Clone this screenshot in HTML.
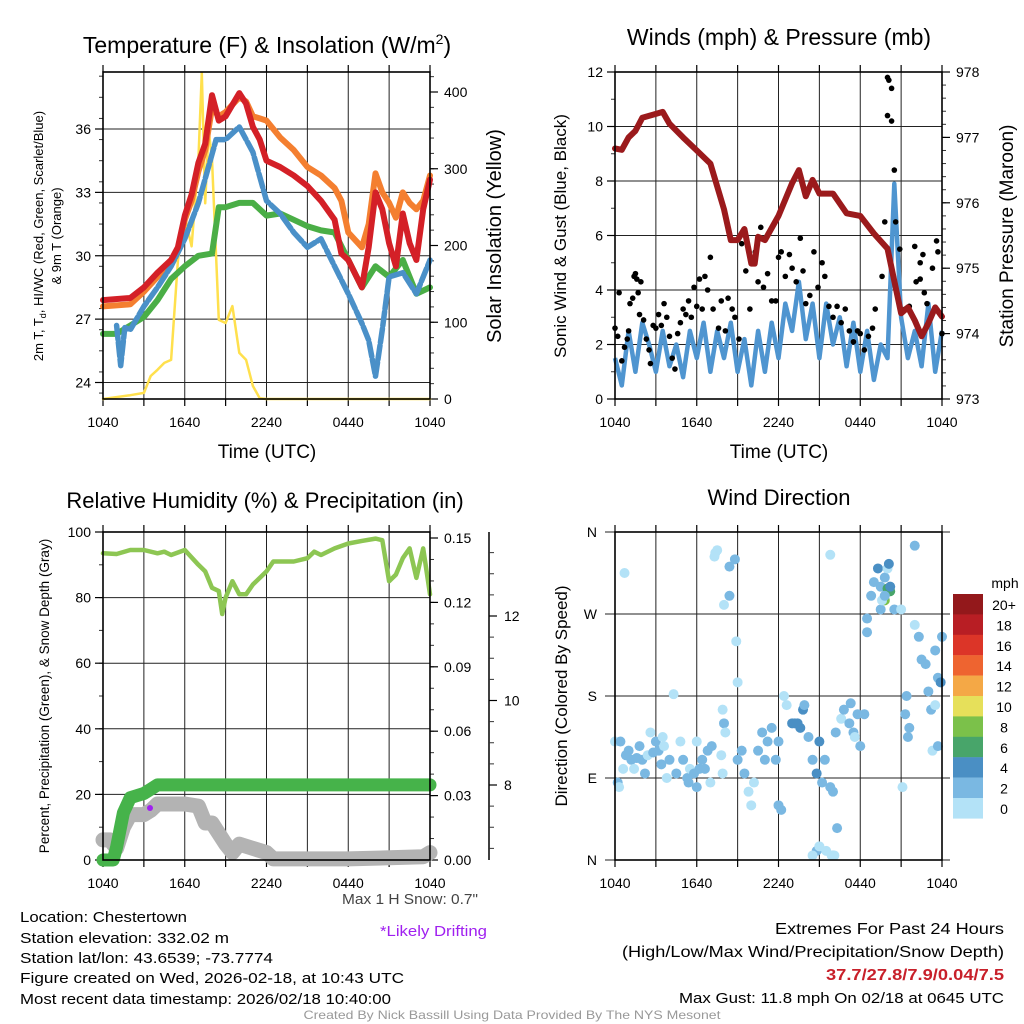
<!DOCTYPE html>
<html><head><meta charset="utf-8"><style>
html,body{margin:0;padding:0;background:#fff;}
svg{display:block;font-family:"Liberation Sans",sans-serif;}
</style></head><body>
<svg id="svg" width="1024" height="1024" viewBox="0 0 1024 1024" xmlns="http://www.w3.org/2000/svg"></svg>
<script>
// ---------- DATA ----------
const timeTicks = ["1040","1640","2240","0440","1040"];
const tempHours = [0,2,3,4,5,5.5,6,6.5,7,7.5,8,8.5,9,10,10.5,11,11.5,12,13,14,15,16,17,17.5,18,19,19.5,20,20.5,21,21.5,22,22.5,23,23.5,24];
const temp2m = [27.9,28.0,28.5,29.2,29.8,30.4,31.9,32.9,34.4,35.3,37.6,36.4,36.6,37.7,37.2,36.1,35.5,34.5,34.2,33.8,33.3,32.6,31.7,30.1,29.8,28.5,30.4,33.0,32.2,30.6,29.5,32.0,30.6,29.8,32.2,33.6];
const temp9m = [27.6,27.7,28.3,29.0,29.8,30.3,31.7,32.6,34.0,35.0,37.0,36.6,36.8,37.5,37.3,36.6,36.5,36.4,35.6,35.0,34.2,33.8,33.2,32.6,31.1,30.4,31.5,33.9,33.0,32.5,31.8,33.0,32.5,32.2,32.6,33.8];
const dewHours = [0,1,2,3,4,5,6,7,8,8.5,9,10,11,12,13,14,15,16,17,18,19,20,21,22,23,24];
const dewpt = [26.3,26.3,26.7,27.1,27.9,28.9,29.5,30.0,30.1,32.3,32.3,32.5,32.5,31.9,32.0,31.7,31.4,31.2,31.1,29.8,28.5,29.5,29.0,29.8,28.2,28.5];
const chillHours = [1,1.3,1.6,2,3,4,5,6,7,8.3,9,10,11,12,13,14,15,16,17,18,19,19.5,20,20.5,21,22,23,24];
const chill = [26.7,24.8,26.6,26.5,27.6,28.5,29.5,30.8,32.5,35.5,35.5,36.1,34.9,32.6,32.0,31.1,30.4,30.8,29.5,28.2,26.8,26.0,24.3,26.5,29.0,29.2,28.2,29.8];
const solarHours = [0,2,3,3.5,4,4.5,5,5.5,6,6.5,7,7.25,7.5,7.75,8,8.5,9,9.5,10,10.5,11,11.5,12,24];
const solar = [0,5,8,30,38,47,51,180,238,199,312,425,255,351,312,103,99,121,60,51,17,1,0,0];
const presHours = [0,0.5,1,1.5,2,3,3.5,4,5,6,7,8,8.5,9,9.5,10,10.25,10.5,11,12,13,13.5,14,14.5,15,16,17,18,19,20,21,21.5,22,22.5,23,23.5,24];
const pressure = [976.83,976.81,977.0,977.1,977.3,977.36,977.39,977.21,977.0,976.8,976.6,975.9,975.43,975.43,975.6,975.07,975.07,975.48,975.43,975.8,976.3,976.5,976.1,976.35,976.14,976.14,975.84,975.8,975.53,975.3,974.31,974.4,974.2,973.96,974.16,974.4,974.26];
const windSpeed = [1.5,0.5,2.5,1.0,2.8,2.0,1.0,2.5,1.2,2.0,0.8,2.5,1.5,2.8,1.0,2.5,1.5,2.8,1.0,2.2,0.5,2.5,1.0,2.8,1.5,3.5,2.5,4.3,2.2,3.5,1.5,3.5,2.0,3.0,1.2,2.8,1.0,2.5,0.7,2.0,1.5,7.9,3.0,1.5,2.5,1.2,3.5,1.0,2.5];
const gustHours = [0,0.2,0.3,0.5,0.7,0.9,1,1.1,1.3,1.4,1.5,1.6,1.7,1.8,1.9,2.1,2.3,2.5,2.6,2.8,3,3.2,3.4,3.6,3.8,4,4.2,4.4,4.6,4.8,5,5.2,5.4,5.6,5.8,6,6.2,6.4,6.6,6.8,7,7.2,7.6,7.8,8.1,8.3,8.6,8.8,9.1,9.3,9.6,9.9,10.2,10.3,10.5,10.7,10.9,11.2,11.5,11.8,12,12.2,12.5,12.8,13,13.3,13.6,13.8,14,14.3,14.6,14.9,15.2,15.4,15.7,16,16.3,16.6,16.9,17.2,17.5,17.8,18,18.3,18.6,18.9,19.1,19.6,19.8,20,20.1,20.3,20.0,20.3,20.5,20.6,20.9,21.3,21.6,22,22.1,22.4,22.6,22.7,22.9,23.3,23.6,23.7,24,23.5,22.4];
const gusts = [2.6,2.3,3.9,1.4,1.9,2.2,2.5,3.5,3.7,4.5,4.6,4.4,3.9,3.1,4.3,2.9,2.2,1.8,1.3,2.7,2.6,3.1,2.7,3.5,3.0,2.3,1.5,1.1,2.4,2.8,3.3,3.1,3.6,3.0,4.1,3.4,4.4,3.3,4.5,4.0,5.2,3.3,2.6,3.6,2.5,3.7,3.3,3.0,2.2,5.7,4.7,3.3,5.0,5.4,4.3,6.3,4.1,4.6,3.6,3.6,5.2,5.4,4.5,5.3,4.8,4.3,5.9,4.7,3.5,3.8,5.4,4.1,5.0,4.5,3.4,3.0,3.4,2.8,3.3,2.5,2.1,2.5,2.4,1.8,2.3,2.6,3.3,4.5,6.5,11.8,11.7,11.4,10.4,10.2,8.4,6.5,5.5,3.3,3.4,5.6,4.3,5.0,5.3,3.9,3.5,4.8,5.8,5.4,2.4,3.3,4.4];
const rhHours = [0,1,2,3,4,4.5,5,6,7,7.5,8,8.5,8.75,9,9.5,10,10.5,11,12,12.5,13,14,15,15.5,16,17,18,19,20,20.5,21,21.5,22,22.5,23,23.5,24];
const rh = [93.5,93.3,94.5,94.5,93.5,94,93,94.5,90,88,83,82,75,80,85,81,81,84,88,91,91,91,92,94,93,95,96.5,97.3,98,97.5,85,87,92,95,86,95,81];
const precipHours = [0,0.5,0.75,1,1.25,1.5,2,2.5,3,3.5,4,24];
const precip = [0,0,0,0.006,0.014,0.022,0.029,0.030,0.031,0.033,0.035,0.035];
const snowHours = [0,0.5,1,1.5,2,3,3.5,4,6,7,7.5,8,9,9.5,10,11,12,12.5,18,23.5,24];
const snowDepth = [6.7,6.7,6.5,7.0,7.3,7.3,7.4,7.55,7.55,7.5,7.1,7.1,6.6,6.4,6.6,6.5,6.4,6.25,6.25,6.3,6.4];
const wdHours = [0,0.2,0.3,0.4,0.6,0.8,1,1.2,1.4,1.6,1.8,2,0.7,2.2,2.4,2.6,2.8,3,3.2,3.4,3.6,3.8,4,3.5,4.3,4.5,4.8,5,5.3,5.5,5.8,6,6,6.2,6.4,6.6,6.8,7,7.1,5.4,7.36,7.5,7.3,7.9,8,8.1,7.9,7.8,8.8,8.4,8.4,8,8.9,9,9.3,9.5,9.8,10,10.2,10.5,10.8,11,11.2,11.5,11.8,12,12.2,12.4,12.6,12,9,13,13.2,13.4,13.6,13.8,13.9,14.2,14.5,14.8,15,15.2,15.4,14.8,15,14.5,15.5,15.8,16,16.3,16.2,16.6,16.8,17.2,17.8,17.5,18,17.3,17.6,16,16.1,15.9,15.8,18.3,18.5,18.5,18.8,19,19.3,19.5,19.8,20,20.2,19.8,20.5,21,19.5,19.6,19.8,21.1,21.3,21.5,21.6,21.4,20,20.1,20.2,22,22,22.3,22.5,22.8,23.5,23.7,23.9,24,23.2,23.3,23.5,23.7,23];
const wdDirs = [130,85,80,130,100,115,120,110,100,112,125,110,315,95,115,140,118,130,120,105,125,90,110,135,182,95,130,110,90,100,95,80,130,100,110,100,120,85,125,85,337,340,333,165,150,140,95,115,330,322,290,280,240,195,120,95,75,60,85,120,140,110,130,145,110,60,55,180,170,130,110,150,150,150,145,165,170,135,110,95,130,85,110,10,15,5,10,80,75,35,140,155,165,150,160,140,125,172,135,5,5,5,335,160,250,265,290,305,320,300,310,298,295,285,275,275,275,285,290,80,160,135,145,180,320,325,300,345,258,245,220,215,230,200,195,245,165,120,170,125,185];
const wdSpeeds = [1,3,1,3,1,3,3,3,1,3,3,3,1,3,1,1,3,3,3,3,1,1,3,1,1,3,1,3,3,1,3,3,1,3,3,3,3,1,3,3,1,1,1,1,3,1,1,1,3,3,3,1,1,1,3,3,1,1,1,3,3,3,3,3,3,3,3,1,1,3,3,5,5,5,5,5,3,3,3,5,5,3,3,3,1,1,1,3,3,3,3,1,3,3,3,3,3,3,1,3,1,1,1,3,3,3,3,3,5,3,3,7,7,9,3,1,3,1,3,1,3,3,3,3,1,5,5,3,1,3,3,3,3,3,5,3,3,1,1,3,3];
const cbLabels = ["20+","18","16","14","12","10","8","6","4","2","0"];
const cbColors = ["#93181b","#b81e24","#dc3528","#ee6430","#f4a846","#e6e05a","#7bc14a","#48a56a","#4a8fc4","#7ab8e2","#b3e2f7"];

// ---------- HELPERS ----------
const NS="http://www.w3.org/2000/svg";
const svg=document.getElementById('svg');
function el(tag,attrs,parent,text){const e=document.createElementNS(NS,tag);for(const k in attrs)e.setAttribute(k,attrs[k]);if(text!==undefined)e.textContent=text;(parent||svg).appendChild(e);return e;}
function lin(d0,d1,r0,r1){return v=>r0+(v-d0)*(r1-r0)/(d1-d0);}
function pathFrom(xs,ys,fx,fy){return xs.map((x,i)=>(i?'L':'M')+fx(x).toFixed(1)+' '+fy(ys[i]).toFixed(1)).join(' ');}

function framePanel(g,x0,x1,y0,y1){
  const fx=lin(0,24,x0,x1);
  for(let h=0;h<=24;h+=3){
    const gl=el('line',{x1:fx(h),x2:fx(h),y1:y0,y2:y1,stroke:'#222','stroke-width':1},g);
    
    
    el('line',{x1:fx(h),x2:fx(h),y1:y1,y2:y1+7,stroke:'#000','stroke-width':1.2},g);
    el('line',{x1:fx(h),x2:fx(h),y1:y0,y2:y0-7,stroke:'#000','stroke-width':1.2},g);
  }
  timeTicks.forEach((t,i)=>{const tx=el('text',{x:fx(i*6),y:y1+28,'font-size':14,'text-anchor':'middle'},g,t);
    
    });
  return fx;
}
function hGrid(g,x0,x1,y){el('line',{x1:x0,x2:x1,y1:y,y2:y,stroke:'#222','stroke-width':1},g);}
function border(g,x0,x1,y0,y1){const b=el('rect',{x:x0,y:y0,width:x1-x0,height:y1-y0,fill:'none',stroke:'#000','stroke-width':1.6},g);}
function leftTicks(g,x0,vals,fy,labels,minors){
  (minors||[]).forEach(v=>el('line',{x1:x0,x2:x0-4,y1:fy(v),y2:fy(v),stroke:'#333','stroke-width':1},g));
  vals.forEach((v,i)=>{el('line',{x1:x0,x2:x0-8,y1:fy(v),y2:fy(v),stroke:'#000','stroke-width':1.2},g);
    const t=el('text',{x:x0-12,y:fy(v)+5,'font-size':14,'text-anchor':'end'},g,labels[i]);
    });
}
function rightTicks(g,x1,vals,fy,labels,minors){
  (minors||[]).forEach(v=>el('line',{x1:x1,x2:x1+4,y1:fy(v),y2:fy(v),stroke:'#333','stroke-width':1},g));
  vals.forEach((v,i)=>{el('line',{x1:x1,x2:x1+8,y1:fy(v),y2:fy(v),stroke:'#000','stroke-width':1.2},g);
    const t=el('text',{x:x1+14,y:fy(v)+5,'font-size':14,'text-anchor':'start'},g,labels[i]);
    });
}
function range(a,b,s){const r=[];for(let v=a;v<=b+1e-9;v+=s)r.push(+v.toFixed(4));return r;}

// ---------- PANEL 1: Temperature ----------
{
const g=el('g',{});
const X0=103,X1=430,Y0=72,Y1=399;
const fx=framePanel(g,X0,X1,Y0,Y1);
const fy=lin(24,36,382.5,129);
const fs=lin(0,400,399,92);
[24,27,30,33,36].forEach(v=>hGrid(g,X0,X1,fy(v)));
leftTicks(g,X0,[24,27,30,33,36],fy,["24","27","30","33","36"],range(23.5,38.5,1));
rightTicks(g,X1,[0,100,200,300,400],fs,["0","100","200","300","400"],range(20,420,20));
const cs={fill:'none','stroke-linejoin':'round','stroke-linecap':'round'};
let p;
p=el('path',Object.assign({d:pathFrom(solarHours,solar,fx,fs),stroke:'#ffe04d','stroke-width':2.5},cs),g);
p=el('path',Object.assign({d:pathFrom(tempHours,temp9m,fx,fy),stroke:'#f47f30','stroke-width':6},cs),g);
p=el('path',Object.assign({d:pathFrom(dewHours,dewpt,fx,fy),stroke:'#4aae46','stroke-width':6},cs),g);
p=el('path',Object.assign({d:pathFrom(chillHours,chill,fx,fy),stroke:'#4a90c8','stroke-width':5.5,'stroke-dasharray':'14 3'},cs),g);
p=el('path',Object.assign({d:pathFrom(tempHours,temp2m,fx,fy),stroke:'#d42027','stroke-width':6},cs),g);
border(g,X0,X1,Y0,Y1);
let t=el('text',{x:267,y:53,'font-size':23,'text-anchor':'middle'},g);
t.innerHTML='Temperature (F) &amp; Insolation (W/m<tspan dy="-9" font-size="14">2</tspan><tspan dy="9">)</tspan>';
t=el('text',{x:267,y:458,'font-size':19,'text-anchor':'middle'},g,'Time (UTC)');
t=el('text',{transform:'translate(43,236) rotate(-90)','font-size':13,'text-anchor':'middle'},g);
t.innerHTML='2m T, T<tspan dy="3" font-size="9">d</tspan><tspan dy="-3">, HI/WC (Red, Green, Scarlet/Blue)</tspan>';
t=el('text',{transform:'translate(61,236) rotate(-90)','font-size':13,'text-anchor':'middle'},g,'& 9m T (Orange)');
t=el('text',{transform:'translate(501,236) rotate(-90)','font-size':20,'text-anchor':'middle'},g,'Solar Insolation (Yellow)');
}

// ---------- PANEL 2: Winds ----------
{
const g=el('g',{});
const X0=615,X1=942,Y0=72,Y1=399;
const fx=framePanel(g,X0,X1,Y0,Y1);
const fy=lin(0,12,399,72);
const fp=lin(973,978,399,72);
[0,2,4,6,8,10,12].forEach(v=>hGrid(g,X0,X1,fy(v)));
leftTicks(g,X0,[0,2,4,6,8,10,12],fy,["0","2","4","6","8","10","12"],range(0,12,1));
rightTicks(g,X1,[973,974,975,976,977,978],fp,["973","974","975","976","977","978"],range(973,978,0.2));
const wh=windSpeed.map((v,i)=>i*24/(windSpeed.length-1));
let p=el('path',{d:pathFrom(wh,windSpeed,fx,fy),fill:'none',stroke:'#4f95d0','stroke-width':4.5,'stroke-linejoin':'round'},g);
gusts.forEach((v,i)=>{const c=el('circle',{cx:fx(gustHours[i]),cy:fy(v),r:2.8,fill:'#000'},g);
  
  });
p=el('path',{d:pathFrom(presHours,pressure,fx,fp),fill:'none',stroke:'#9b1a1c','stroke-width':6,'stroke-linejoin':'round','stroke-linecap':'round'},g);
border(g,X0,X1,Y0,Y1);
let t=el('text',{x:779,y:45,'font-size':23,'text-anchor':'middle'},g,'Winds (mph) & Pressure (mb)');
t=el('text',{x:779,y:458,'font-size':19,'text-anchor':'middle'},g,'Time (UTC)');
t=el('text',{transform:'translate(566,236) rotate(-90)','font-size':17,'text-anchor':'middle'},g,'Sonic Wind & Gust (Blue, Black)');
t=el('text',{transform:'translate(1013,236) rotate(-90)','font-size':19,'text-anchor':'middle'},g,'Station Pressure (Maroon)');
}

// ---------- PANEL 3: RH ----------
{
const g=el('g',{});
const X0=103,X1=430,Y0=532,Y1=860;
const fx=framePanel(g,X0,X1,Y0,Y1);
const fy=lin(0,100,860,532);
const fr=lin(0,0.15,860,538);
const fsn=lin(8,12,785,616);
[0,20,40,60,80,100].forEach(v=>hGrid(g,X0,X1,fy(v)));
leftTicks(g,X0,[0,20,40,60,80,100],fy,["0","20","40","60","80","100"],range(0,100,10));
rightTicks(g,X1,[0,0.03,0.06,0.09,0.12,0.15],fr,["0.00","0.03","0.06","0.09","0.12","0.15"],range(0,0.15,0.01));
const ax=el('line',{x1:489,x2:489,y1:532,y2:860,stroke:'#000','stroke-width':1.5},g);
range(6.5,13.5,0.5).forEach(v=>el('line',{x1:489,x2:494,y1:fsn(v),y2:fsn(v),stroke:'#333','stroke-width':1},g));
[8,10,12].forEach(v=>{el('line',{x1:489,x2:497,y1:fsn(v),y2:fsn(v),stroke:'#000','stroke-width':1.2},g);
  const t=el('text',{x:504,y:fsn(v)+5,'font-size':14},g,String(v));});
let p=el('path',{d:pathFrom(snowHours,snowDepth,fx,fsn),fill:'none',stroke:'#b3b3b3','stroke-width':15,'stroke-linejoin':'round','stroke-linecap':'round'},g);
p=el('circle',{cx:150,cy:808,r:3,fill:'#a020f0'},g);
p=el('path',{d:pathFrom(precipHours,precip,fx,fr),fill:'none',stroke:'#46b34a','stroke-width':13,'stroke-linejoin':'round','stroke-linecap':'round'},g);
p=el('path',{d:pathFrom(rhHours,rh,fx,fy),fill:'none',stroke:'#8dc653','stroke-width':4.5,'stroke-linejoin':'round','stroke-linecap':'round'},g);
border(g,X0,X1,Y0,Y1);
let t=el('text',{x:265,y:508,'font-size':22,'text-anchor':'middle'},g,'Relative Humidity (%) & Precipitation (in)');
t=el('text',{transform:'translate(49,696) rotate(-90)','font-size':13.5,'text-anchor':'middle'},g,'Percent, Precipitation (Green), & Snow Depth (Gray)');
}

// ---------- PANEL 4: Wind direction ----------
{
const g=el('g',{});
const X0=615,X1=942,Y0=532,Y1=860;
const fx=framePanel(g,X0,X1,Y0,Y1);
const fy=lin(0,360,860,532);
const dl=["N","E","S","W","N"];
[0,90,180,270,360].forEach((v,i)=>{hGrid(g,X0-10,X1+8,fy(v));
  const t=el('text',{x:X0-18,y:fy(v)+5,'font-size':14,'text-anchor':'end'},g,dl[i]);});
wdDirs.forEach((d,i)=>{const ci=Math.max(0,10-Math.min(10,Math.floor(wdSpeeds[i]/2)));
  const c=el('circle',{cx:fx(wdHours[i]),cy:fy(d),r:5,fill:cbColors[ci]},g);
  
  });
border(g,X0,X1,Y0,Y1);
cbColors.forEach((c,i)=>{const r=el('rect',{x:953,y:594+i*20.4,width:30,height:20.6,fill:c},g);
  
  
  const t=el('text',{x:1004,y:594+i*20.4+16,'font-size':14,'text-anchor':'middle'},g,cbLabels[i]);
  
  });
let t=el('text',{x:1005,y:588,'font-size':14,'text-anchor':'middle'},g,'mph');
t=el('text',{x:779,y:505,'font-size':22,'text-anchor':'middle'},g,'Wind Direction');
t=el('text',{transform:'translate(567,696) rotate(-90)','font-size':17,'text-anchor':'middle'},g,'Direction (Colored By Speed)');
}

// ---------- FOOTER TEXT ----------
function txt(name,x,y,s,opts,str){const t=el('text',Object.assign({x:x,y:y,'font-size':s},opts),svg,str);return t;}
txt('max-snow-note',478,904,15,{'text-anchor':'end',fill:'#444',textLength:136,lengthAdjust:'spacingAndGlyphs'},'Max 1 H Snow: 0.7"');
txt('drifting-note',487,936,15,{'text-anchor':'end',fill:'#a020f0',textLength:107,lengthAdjust:'spacingAndGlyphs'},'*Likely Drifting');
txt('location-text',20,922,15,{textLength:167,lengthAdjust:'spacingAndGlyphs'},'Location: Chestertown');
txt('elevation-text',20,943,15,{textLength:209,lengthAdjust:'spacingAndGlyphs'},'Station elevation: 332.02 m');
txt('latlon-text',20,963,15,{textLength:253,lengthAdjust:'spacingAndGlyphs'},'Station lat/lon: 43.6539; -73.7774');
txt('created-text',20,983,15,{textLength:384,lengthAdjust:'spacingAndGlyphs'},'Figure created on Wed, 2026-02-18, at 10:43 UTC');
txt('timestamp-text',20,1004,15,{textLength:371,lengthAdjust:'spacingAndGlyphs'},'Most recent data timestamp: 2026/02/18 10:40:00');
txt('extremes-title',1004,934,16,{'text-anchor':'end',textLength:229,lengthAdjust:'spacingAndGlyphs'},'Extremes For Past 24 Hours');
txt('extremes-subtitle',1004,957,16,{'text-anchor':'end',textLength:382,lengthAdjust:'spacingAndGlyphs'},'(High/Low/Max Wind/Precipitation/Snow Depth)');
txt('extremes-values',1004,980,16,{'text-anchor':'end','font-weight':'bold',fill:'#c8202a',textLength:178,lengthAdjust:'spacingAndGlyphs'},'37.7/27.8/7.9/0.04/7.5');
txt('max-gust-text',1004,1003,15,{'text-anchor':'end',textLength:325,lengthAdjust:'spacingAndGlyphs'},'Max Gust: 11.8 mph On 02/18 at 0645 UTC');
txt('credit-text',512,1019,12,{'text-anchor':'middle',fill:'#999',textLength:417,lengthAdjust:'spacingAndGlyphs'},'Created By Nick Bassill Using Data Provided By The NYS Mesonet');
</script>
</body></html>
